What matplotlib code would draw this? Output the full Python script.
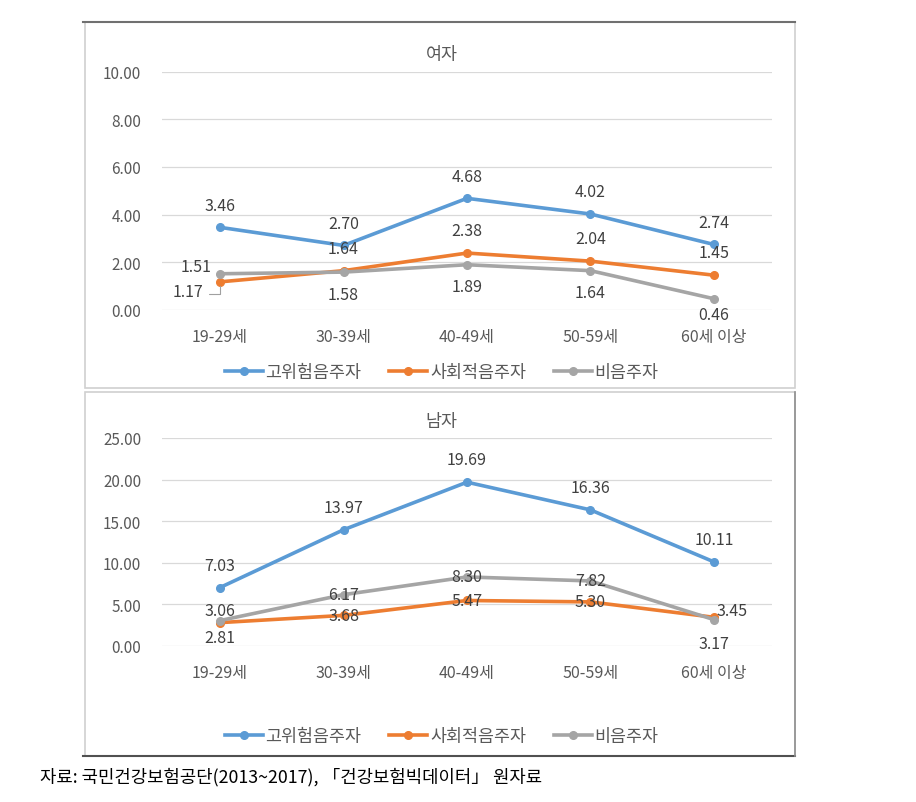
import matplotlib
matplotlib.use('Agg')
import matplotlib.pyplot as plt
from matplotlib.patches import Rectangle
from matplotlib.lines import Line2D

plt.rcParams['font.family'] = ['Noto Sans CJK KR', 'DejaVu Sans']

categories = ['19-29세', '30-39세', '40-49세', '50-59세', '60세 이상']
series_names = ['고위험음주자', '사회적음주자', '비음주자']

female_high = [3.46, 2.70, 4.68, 4.02, 2.74]
female_social = [1.17, 1.64, 2.38, 2.04, 1.45]
female_none = [1.51, 1.58, 1.89, 1.64, 0.46]

male_high = [7.03, 13.97, 19.69, 16.36, 10.11]
male_social = [2.81, 3.68, 5.47, 5.30, 3.45]
male_none = [3.06, 6.17, 8.30, 7.82, 3.17]

colors = ['#5B9BD5', '#ED7D31', '#A5A5A5']
W, H = 916, 803

# label offsets in points (dx, dy) per point, per series
fem_offsets = [
    [(0, 16)] * 5,
    [(-23, -7), (0, 16), (0, 16), (0, 16), (0, 16)],
    [(-17, 5), (0, -16), (0, -16), (0, -16), (0, -11)],
]
male_offsets = [
    [(0, 16)] * 5,
    [(0, -11), (0, 0), (0, 0), (0, 0), (13, 5)],
    [(0, 7), (0, 0), (0, 0), (0, 0), (0, -17)],
]


def fig_rect(x0, y0, x1, y1):
    # pixel box (top-left origin) -> figure fraction
    return [x0 / W, 1 - y1 / H, (x1 - x0) / W, (y1 - y0) / H]


def draw_panel(ax, data, offsets, ymax, step, title, title_y, leg_y):
    for vals, c in zip(data, colors):
        ax.plot(range(len(categories)), vals, color=c, lw=2.6, marker='o',
                ms=5.5, zorder=3)
    for vals, offs in zip(data, offsets):
        for i, (v, (dx, dy)) in enumerate(zip(vals, offs)):
            ax.annotate(f'{v:.2f}', (i, v), xytext=(dx, dy),
                        textcoords='offset points', ha='center', va='center',
                        fontsize=11.5, color='#404040', zorder=4)
    ax.set_xlim(-0.47, len(categories) - 0.53)
    ax.set_ylim(0, ymax)
    ticks = [step * k for k in range(int(round(ymax / step)) + 1)]
    ax.set_yticks(ticks)
    ax.set_yticklabels([f'{t:.2f}' for t in ticks])
    ax.set_xticks(range(len(categories)))
    ax.set_xticklabels(categories, fontsize=11.5)
    ax.tick_params(axis='both', length=0, colors='#595959')
    ax.tick_params(axis='y', pad=15, labelsize=11)
    ax.tick_params(axis='x', pad=13)
    ax.grid(axis='y', color='#D9D9D9', lw=0.9)
    ax.set_axisbelow(True)
    for s in ax.spines.values():
        s.set_visible(False)
    fig.text(0.482, 1 - title_y / H, title, ha='center', va='center',
             fontsize=12.5, color='#595959')
    handles = [Line2D([], [], color=c, lw=2.6, marker='o', ms=5.5) for c in colors]
    fig.legend(handles, series_names, loc='center',
               bbox_to_anchor=(0.482, 1 - leg_y / H), ncol=3, frameon=False,
               fontsize=12.5, handlelength=2.2, handletextpad=0.15,
               columnspacing=1.6, labelcolor='#595959')


fig = plt.figure(figsize=(W / 100, H / 100), dpi=100)

# panel frames
fig.patches.append(Rectangle((85 / W, 1 - 389 / H), 710 / W, 366 / H,
                             transform=fig.transFigure, fill=False,
                             ec='#D0D0D0', lw=1.2))
fig.patches.append(Rectangle((85 / W, 1 - 757 / H), 710 / W, 364 / H,
                             transform=fig.transFigure, fill=False,
                             ec='#D0D0D0', lw=1.2))
fig.add_artist(Line2D([83 / W, 795 / W], [1 - 23 / H, 1 - 23 / H],
                      transform=fig.transFigure, color='#707070', lw=1.5))
fig.add_artist(Line2D([83 / W, 795 / W], [1 - 757 / H, 1 - 757 / H],
                      transform=fig.transFigure, color='#505050', lw=1.5))
fig.add_artist(Line2D([795 / W, 795 / W], [1 - 757 / H, 1 - 393 / H],
                      transform=fig.transFigure, color='#909090', lw=1.2))

ax1 = fig.add_axes(fig_rect(162, 72.7, 772, 310.7))
draw_panel(ax1, [female_high, female_social, female_none], fem_offsets,
           10, 2, '여자', 55, 373)
# leader line for the 1.17 label
ax1.annotate('', xy=(0, female_social[0]), xytext=(-8, -9),
             textcoords='offset points',
             arrowprops=dict(arrowstyle='-', color='#A0A0A0', lw=0.8,
                             shrinkA=0, shrinkB=3, connectionstyle='angle,angleA=0,angleB=90'))

ax2 = fig.add_axes(fig_rect(162, 439, 772, 647))
draw_panel(ax2, [male_high, male_social, male_none], male_offsets,
           25, 5, '남자', 422, 737)

fig.text(40 / W, 1 - 777 / H,
         '자료: 국민건강보험공단(2013~2017), 「건강보험빅데이터」 원자료',
         ha='left', va='center', fontsize=12.8, fontweight='medium', color='black')

fig.savefig('out.png', dpi=100)
